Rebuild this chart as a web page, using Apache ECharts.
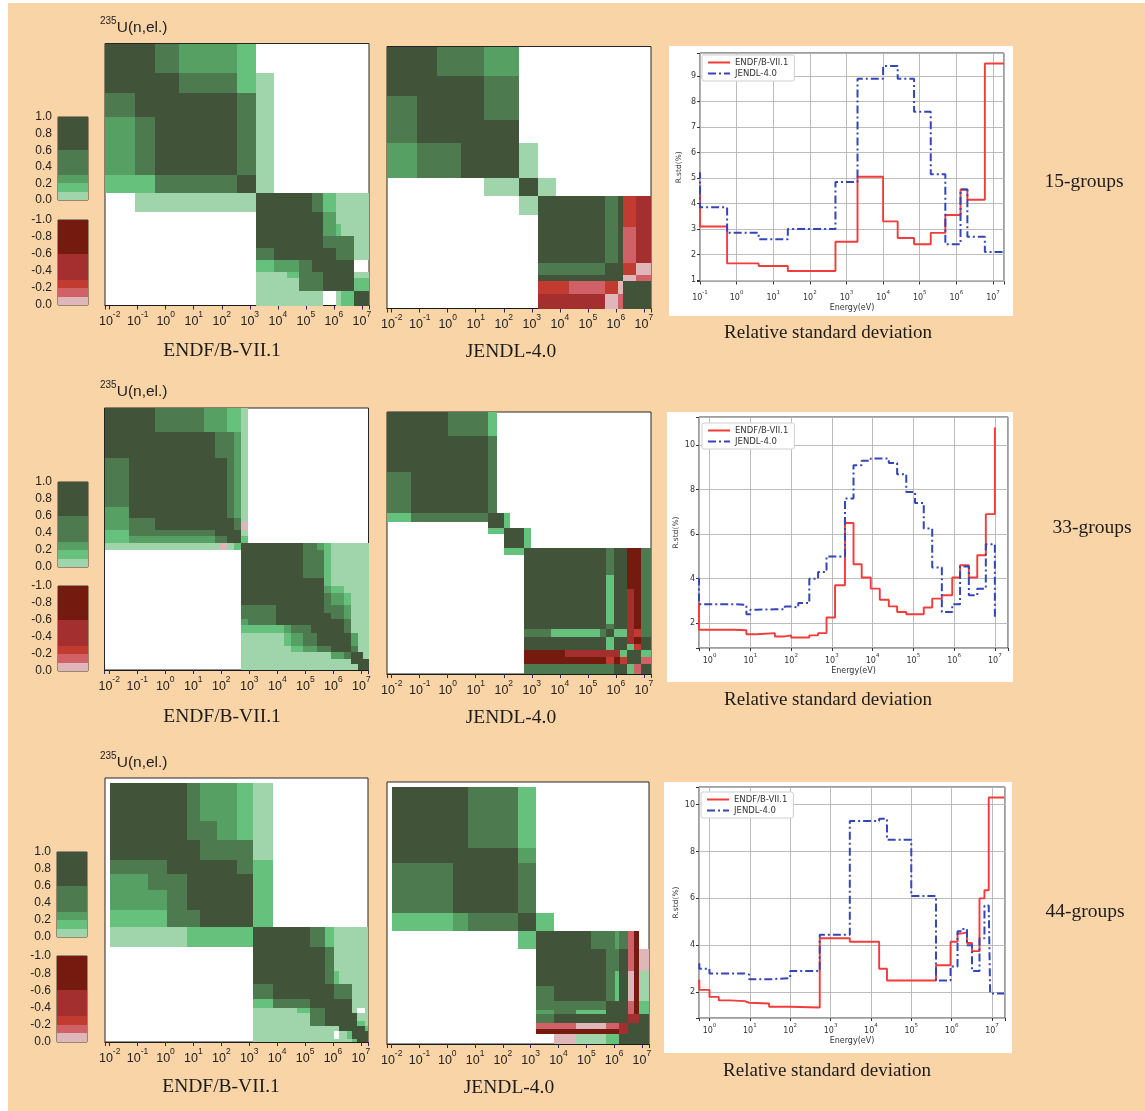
<!DOCTYPE html>
<html>
<head>
<meta charset="utf-8">
<title>235U(n,el.) correlation matrices and relative standard deviation</title>
<script src="https://cdn.jsdelivr.net/npm/echarts@6.0.0/dist/echarts.min.js"></script>
<style>
  html, body { margin: 0; padding: 0; background: #ffffff; overflow: hidden; }
  #chart { width: 1145px; height: 1111px; }
</style>
</head>
<body>
<div id="chart"></div>
<script>
// ---------------------------------------------------------------------------
// Data
// ---------------------------------------------------------------------------
const libraries = ['ENDF/B-VII.1', 'JENDL-4.0'];
const groupNames = ['15-groups', '33-groups', '44-groups'];
const reactionSup = '235';
const reactionName = 'U(n,el.)';

// Correlation level codes used in the matrix rows below.
const levelCodes  = ['D', 'M', 'G', 'B', 'L', '0', 'a', 'b', 'c', 'd', 'e'];
const levelValues = [0.8, 0.45, 0.25, 0.15, 0.05, 0, -0.05, -0.15, -0.25, -0.45, -0.8];

// Colour bands of the correlation scale.
const posBandEdges  = [0, 0.1, 0.2, 0.3, 0.6, 1.0];
const posBandColors = ['#a0d4aa', '#65c17b', '#57a063', '#4e7a50', '#41543a'];
const negBandEdges  = [0, -0.1, -0.2, -0.3, -0.6, -1.0];
const negBandColors = ['#dfb7ba', '#d06166', '#c13b31', '#a3302e', '#741a0e'];

// Matrix rows: "n*X" repeats code X n times, other tokens are read one code per character.
// 15-group structure (eV)
const heatEdges15 = [1e-5, 0.08, 0.4, 3, 20, 360, 1650, 7500, 2.1e4, 5.7e4, 1.6e5, 4e5, 1.15e6, 1.8e6, 5.2e6, 2e7];
const endf15Rows = [
  'DDMGGB 9*0',
  'DDDMMBL 8*0',
  'MDDDDML 8*0',
  'GMDDDML 8*0',
  'GMDDDML 8*0',
  'BBMMMDL 8*0',
  '0LLLLLDDDDMBLLL',
  '6*0 DDDDDGLLL',
  '6*0 DDDDDGBLL',
  '6*0 DDDDDMMML',
  '6*0 MDDDDDMML',
  '6*0 BGGMDDDD0',
  '6*0 LLBMMDDDL',
  '6*0 LLLMMDDDB',
  '6*0 LLLLL0LBD'
];
const jendl15Rows = [
  'DDMMG 10*0',
  'DDDDM 10*0',
  'MDDDM 10*0',
  'MDDDD 10*0',
  'GMMDDL 9*0',
  '4*0 LDL 8*0',
  '5*0 LDDDDDMDcd',
  '6*0 DDDDDMDcd',
  '6*0 DDDDDMDbd',
  '6*0 DDDDDMDbd',
  '6*0 DDDDDMDbd',
  '6*0 MMMMMDDca',
  '6*0 DDDDDDDab',
  '6*0 ccbbbcaDD',
  '6*0 dddddabDD'
];

// 33-group matrices (merged bins, eV)
const endf33Edges = [1e-5, 0.05, 0.42, 25, 59, 89, 160, 280, 490, 900, 2500, 8800, 1.7e4, 3e4, 8.3e4,
  1.6e5, 2.7e5, 4.5e5, 8.2e5, 2.4e6, 4.2e6, 7.3e6, 1.1e7, 2e7];
const endf33Rows = [
  'DDMGGGBBL 14*0',
  'DDDDMMMGL 14*0',
  'MDDDDDMGL 14*0',
  'GDDDDDMGL 14*0',
  'GMDDDDDML 14*0',
  'GMDDDDDMa 14*0',
  'BMMMDDDDL 14*0',
  'BGGGMMDDB 14*0',
  'LLLLLaLBD DDDDDMMGBLLLLL',
  '8*0 DDDDDDMMMBLLLLL',
  '8*0 DDDDDDMMMBLLLLL',
  '8*0 DDDDDDDDDBLLLLL',
  '8*0 DDDDDDDDDGBLLLL',
  '8*0 DDDDDDDDDMGBLLL',
  '8*0 MMMDDDDDDMMGLLL',
  '8*0 MMMDDDDDDDMGLLL',
  '8*0 GMMDDDDDDDDMLLL',
  '8*0 BBBBGMMDDDDMLLL',
  '8*0 LLLLBGMMDDDDGLL',
  '8*0 LLLLLBGGMMDDMLL',
  '8*0 LLLLLLLLLLGMDDL',
  '8*0 LLLLLLLLLLLLDDD',
  '8*0 LLLLLLLLLLLLLDD'
];
const jendl33Edges = [1e-5, 0.05, 1.0, 28, 59, 100, 170, 530, 920, 4800, 1.56e4, 8.1e4, 2.8e5, 4.5e5,
  8.4e5, 1.45e6, 2.5e6, 4.4e6, 7.6e6, 2e7];
const jendl33Rows = [
  'DDMB 15*0',
  'DDDM 15*0',
  'MDDM 15*0',
  'BMMDDB 13*0',
  '3*0 DDB 13*0',
  '3*0 BBDDB 11*0',
  '5*0 DDB 11*0',
  '5*0 BBDDDDDDMDDeeM',
  '7*0 DDDDDDMDDeeM',
  '7*0 DDDDDDBDDeeM',
  '7*0 DDDDDDBDDdeM',
  '7*0 DDDDDDBDDdeM',
  '7*0 DDDDDDMDDdeM',
  '7*0 MMBBBMDBBdcM',
  '7*0 DDDDDDBDDdeD',
  '7*0 DDDDDDBDDBcD',
  '7*0 eeedddddBDDB',
  '7*0 6*e cecDDb',
  '7*0 7*M DDBbD'
];

// 44-group matrices (merged bins, eV)
const endf44Edges = [0.01, 0.24, 1.1, 5.8, 17.5, 69, 360, 1400, 7100, 5.1e4, 1.55e5, 5.3e5, 1.06e6,
  1.6e6, 3.2e6, 4.8e6, 7.3e6, 1.45e7, 1.8e7];
const endf44Rows = [
  'DDDMGGBL 10*0',
  'DDDMMGBL 10*0',
  'DDDDMMML 10*0',
  'MMDDDDMB 10*0',
  'GMMDDDDB 10*0',
  'GGMDDDDB 10*0',
  'BBMMDDDB 10*0',
  'LLLBBBBD DDMBLLLLLL',
  '7*0 DDDDMLLLLLL',
  '7*0 DDDDMBLLLLL',
  '7*0 MDDDDMMMLLL',
  '7*0 BMMDDDDDLLL',
  '7*0 LLBMDDDDL0L',
  '7*0 LLLMDDDDDLL',
  '7*0 LLLMDDDDDBL',
  '7*0 LLLLLLDDDDB',
  '7*0 LLLLL0LBDDD',
  '7*0 LLLLLLLLBDD'
];
const jendl44Edges = [0.01, 1.66, 5.7, 350, 1600, 6700, 4.3e4, 1.5e5, 5.1e5, 1.1e6, 1.54e6, 3.05e6,
  5.3e6, 8e6, 1.8e7];
const jendl44Rows = [
  'DDMB 10*0',
  'DDDG 10*0',
  'MDDM 10*0',
  'BGMDB 9*0',
  '3*0 BDDDMMGMbe0',
  '4*0 DDDDMMDbea',
  '4*0 DDDDMBDaeL',
  '4*0 MDDDMBDaeL',
  '4*0 MMMMDDDbeB',
  '4*0 GMBBDDDbeB',
  '4*0 MDDDDDDddD',
  '4*0 bbaabbdDDD',
  '4*0 eeeeeedDDD',
  '4*0 0aLLBBDDDD'
];

// Relative standard deviation (%) per energy group, group boundaries in eV
const stdEdges15 = [1e-5, 0.1, 0.55, 4, 25, 500, 2000, 1e4, 2.5e4, 7e4, 2e5, 5e5, 1.3e6, 2e6, 6e6, 2e7];
const endfStd15  = [4.7, 3.1, 1.65, 1.55, 1.35, 2.5, 5.05, 3.3, 2.65, 2.4, 2.85, 3.55, 4.55, 4.15, 9.5];
const jendlStd15 = [5.2, 3.85, 2.85, 2.6, 3.0, 4.85, 8.9, 9.4, 8.9, 7.6, 5.15, 2.4, 4.55, 2.7, 2.1];

const stdEdges33 = [1e-5, 0.55, 4, 8, 10, 14, 40, 70, 100, 150, 280, 460, 740, 1200, 2100, 3400, 5400,
  9000, 1.5e4, 2.5e4, 4e4, 6.7e4, 1.1e5, 1.8e5, 2.9e5, 5e5, 9e5, 1.4e6, 2.3e6, 3.7e6, 6e6, 1e7, 2e7];
const endfStd33  = [2.9, 1.7, 1.68, 1.5, 1.5, 1.55, 1.4, 1.45, 1.35, 1.35, 1.45, 1.55, 2.25, 3.7, 6.5,
  4.65, 4.05, 3.55, 3.05, 2.75, 2.5, 2.4, 2.4, 2.7, 3.1, 3.25, 4.05, 4.6, 4.05, 5.05, 6.9, 10.8];
const jendlStd33 = [4.0, 2.85, 2.82, 2.4, 2.6, 2.62, 2.62, 2.75, 2.7, 2.9, 4.0, 4.3, 5.0, 5.0, 7.6,
  9.1, 9.3, 9.4, 9.4, 9.2, 8.7, 7.9, 7.4, 6.25, 4.5, 2.5, 2.85, 4.55, 3.25, 3.55, 5.55, 2.2];

const stdEdges44 = [1e-5, 0.56, 1.0, 1.7, 3.2, 7.5, 9.6, 30, 100, 540, 3000, 1.6e4, 2.5e4, 1e5, 4.1e5,
  9.4e5, 1.4e6, 1.7e6, 2.4e6, 3.2e6, 4.9e6, 6.5e6, 8.3e6, 9e6, 2e7];
const endfStd44  = [2.5, 2.1, 1.8, 1.65, 1.62, 1.55, 1.52, 1.38, 1.35, 4.3, 4.15, 3.0, 2.5, 2.5, 3.15,
  4.15, 4.5, 4.55, 4.1, 3.75, 6.0, 6.35, 10.3, 10.3];
const jendlStd44 = [3.25, 3.0, 2.8, 2.8, 2.8, 2.75, 2.55, 2.6, 2.9, 4.45, 9.3, 9.4, 8.5, 6.1, 2.5,
  3.1, 4.6, 4.7, 4.0, 2.9, 4.3, 5.7, 5.7, 1.95];

// ---------------------------------------------------------------------------
// Layout
// ---------------------------------------------------------------------------
const HEAT_RANGE = [0.0068, 1.8e7];
const rowSetup = [
  {
    heat: [{ edges: heatEdges15, rows: endf15Rows }, { edges: heatEdges15, rows: jendl15Rows }],
    std: { edges: stdEdges15, endf: endfStd15, jendl: jendlStd15, closed: true },
    heatBox: [{ left: 105, top: 43.5, width: 264, height: 262 }, { left: 387, top: 46.5, width: 264, height: 262 }],
    bar: { left: 58, width: 30, green: [117, 200], red: [220, 305] },
    lineBox: { left: 700, top: 53, width: 304, height: 228.5 },
    xRange: [0.1, 2e7], yRange: [0.94, 9.91], yStep: 1,
    panel: { x: 669, y: 46, w: 344, h: 270 },
    legendPos: { left: 702, top: 55 },
    title: { x: 100, y: 26 },
    captions: [{ x: 222, y: 351 }, { x: 511, y: 352 }],
    stdCaption: { x: 828, y: 333 },
    groupLabel: { x: 1084, y: 182 },
    yNameGap: 17, xNameGap: 22, xLabelMargin: 8
  },
  {
    heat: [{ edges: endf33Edges, rows: endf33Rows }, { edges: jendl33Edges, rows: jendl33Rows }],
    std: { edges: stdEdges33, endf: endfStd33, jendl: jendlStd33, closed: false },
    heatBox: [{ left: 104.5, top: 408, width: 264, height: 262 }, { left: 387, top: 412, width: 264, height: 262 }],
    bar: { left: 58, width: 30, green: [482, 567], red: [586, 671] },
    lineBox: { left: 699, top: 417, width: 309, height: 231 },
    xRange: [0.55, 2.1e7], yRange: [0.88, 11.27], yStep: 2,
    panel: { x: 667, y: 412, w: 346, h: 270 },
    legendPos: { left: 702, top: 423 },
    title: { x: 100, y: 390 },
    captions: [{ x: 222, y: 717 }, { x: 511, y: 718 }],
    stdCaption: { x: 828, y: 700 },
    groupLabel: { x: 1092, y: 528 },
    yNameGap: 19, xNameGap: 19, xLabelMargin: 5
  },
  {
    heat: [{ edges: endf44Edges, rows: endf44Rows }, { edges: jendl44Edges, rows: jendl44Rows }],
    std: { edges: stdEdges44, endf: endfStd44, jendl: jendlStd44, closed: true },
    heatBox: [{ left: 105, top: 778, width: 263, height: 264 }, { left: 387, top: 782, width: 262, height: 262 }],
    bar: { left: 57, width: 30, green: [852, 937], red: [956, 1042] },
    lineBox: { left: 699, top: 787, width: 306, height: 231 },
    xRange: [0.55, 2.1e7], yRange: [0.9, 10.75], yStep: 2,
    panel: { x: 664, y: 782, w: 348, h: 271 },
    legendPos: { left: 701, top: 792 },
    title: { x: 100, y: 761 },
    captions: [{ x: 221, y: 1087 }, { x: 509, y: 1088 }],
    stdCaption: { x: 827, y: 1071 },
    groupLabel: { x: 1085, y: 912 },
    yNameGap: 19, xNameGap: 19, xLabelMargin: 5
  }
];

// ---------------------------------------------------------------------------
// Helpers
// ---------------------------------------------------------------------------
function expandRow(s) {
  const out = [];
  s.trim().split(/\s+/).forEach(tok => {
    const m = tok.match(/^(\d+)\*(.)$/);
    if (m) { for (let k = 0; k < +m[1]; k++) out.push(m[2]); }
    else { for (const ch of tok) out.push(ch); }
  });
  return out;
}
function levelValue(code) { return levelValues[levelCodes.indexOf(code)]; }
function bandColor(v) {
  if (v > 0) {
    for (let i = 1; i < posBandEdges.length; i++) if (v <= posBandEdges[i]) return posBandColors[i - 1];
    return posBandColors[posBandColors.length - 1];
  }
  for (let i = 1; i < negBandEdges.length; i++) if (v >= negBandEdges[i]) return negBandColors[i - 1];
  return negBandColors[negBandColors.length - 1];
}
function matrixCells(edges, rows) {
  const cells = [];
  rows.forEach((row, i) => {
    expandRow(row).forEach((code, j) => {
      const v = levelValue(code);
      if (v !== 0 && j + 1 < edges.length && i + 1 < edges.length) {
        cells.push([edges[j], edges[j + 1], edges[i], edges[i + 1], v]);
      }
    });
  });
  return cells;
}
function bandCells(bounds) {
  const cells = [];
  for (let i = 0; i + 1 < bounds.length; i++) {
    cells.push([0, 1, bounds[i], bounds[i + 1], (bounds[i] + bounds[i + 1]) / 2]);
  }
  return cells;
}
// Cells are snapped to whole pixels so that neighbouring blocks meet without seams.
function renderBlock(params, api) {
  const a = api.coord([api.value(0), api.value(2)]);
  const b = api.coord([api.value(1), api.value(3)]);
  const cs = params.coordSys;
  const cx0 = Math.round(cs.x), cy0 = Math.round(cs.y);
  const cx1 = Math.round(cs.x + cs.width), cy1 = Math.round(cs.y + cs.height);
  const x0 = Math.max(cx0, Math.round(Math.min(a[0], b[0])));
  const x1 = Math.min(cx1, Math.round(Math.max(a[0], b[0])));
  const y0 = Math.max(cy0, Math.round(Math.min(a[1], b[1])));
  const y1 = Math.min(cy1, Math.round(Math.max(a[1], b[1])));
  if (x1 <= x0 || y1 <= y0) return null;
  return { type: 'rect', shape: { x: x0, y: y0, width: x1 - x0, height: y1 - y0 },
    style: { fill: bandColor(api.value(4)) } };
}
function stepPoints(edges, values, closed) {
  const pts = values.map((v, i) => [edges[i], v]);
  if (closed) pts.push([edges[values.length], values[values.length - 1]]);
  return pts;
}
function powerLabel(v) {
  const e = Math.log10(v);
  const r = Math.round(e);
  if (Math.abs(e - r) > 1e-6) return '';
  return '{b|10}{s|' + r + '}';
}
function barLabel(v) {
  if (Math.abs(v) < 1e-9) return '0.0';
  return v.toFixed(1);
}

// ---------------------------------------------------------------------------
// Option assembly
// ---------------------------------------------------------------------------
const grids = [], xAxes = [], yAxes = [], series = [], legends = [], elements = [];
function addGrid(box, extra, xa, ya) {
  const idx = grids.length;
  grids.push(Object.assign({ left: box.left, top: box.top, width: box.width, height: box.height,
    containLabel: false, outerBoundsMode: 'none' }, extra));
  xAxes.push(Object.assign({ gridIndex: idx }, xa));
  yAxes.push(Object.assign({ gridIndex: idx }, ya));
  return idx;
}

const heatLabelRich = {
  b: { fontSize: 12.5, fontFamily: 'Liberation Sans', color: '#222', lineHeight: 18, verticalAlign: 'bottom' },
  s: { fontSize: 8.5, fontFamily: 'Liberation Sans', color: '#222', lineHeight: 18, verticalAlign: 'top' }
};
const lineLabelRich = {
  b: { fontSize: 8, fontFamily: 'DejaVu Sans', color: '#333', lineHeight: 12, verticalAlign: 'bottom' },
  s: { fontSize: 5.5, fontFamily: 'DejaVu Sans', color: '#333', lineHeight: 12, verticalAlign: 'top' }
};

// page background
elements.push({ type: 'rect', z: -100, shape: { x: 8, y: 3, width: 1137, height: 1108 }, style: { fill: '#f9d4a7' } });

rowSetup.forEach((row, r) => {
  // colour scale bars
  const gBox = { left: row.bar.left, top: row.bar.green[0], width: row.bar.width, height: row.bar.green[1] - row.bar.green[0] };
  const rBox = { left: row.bar.left, top: row.bar.red[0], width: row.bar.width, height: row.bar.red[1] - row.bar.red[0] };
  const barY = {
    type: 'value', interval: 0.2,
    axisLabel: { formatter: barLabel, fontSize: 12, color: '#222', fontFamily: 'Liberation Sans', margin: 6 },
    axisLine: { show: false }, axisTick: { show: false }, splitLine: { show: false }
  };
  const gIdx = addGrid(gBox, { show: true, borderColor: '#3a3a3a', borderWidth: 1 },
    { type: 'value', min: 0, max: 1, show: false },
    Object.assign({}, barY, { min: 0, max: 1 }));
  series.push({ type: 'custom', name: 'scale+' + r, xAxisIndex: gIdx, yAxisIndex: gIdx,
    renderItem: renderBlock, encode: { x: [0, 1], y: [2, 3] }, data: bandCells(posBandEdges), silent: true });
  const rIdx = addGrid(rBox, { show: true, borderColor: '#3a3a3a', borderWidth: 1 },
    { type: 'value', min: 0, max: 1, show: false },
    Object.assign({}, barY, { min: -1, max: 0, inverse: true }));
  series.push({ type: 'custom', name: 'scale-' + r, xAxisIndex: rIdx, yAxisIndex: rIdx,
    renderItem: renderBlock, encode: { x: [0, 1], y: [2, 3] }, data: bandCells(negBandEdges), silent: true });

  // correlation matrices
  row.heat.forEach((h, k) => {
    const idx = addGrid(row.heatBox[k], { show: true, borderColor: '#262626', borderWidth: 1, backgroundColor: '#ffffff' },
      {
        type: 'log', logBase: 10, min: HEAT_RANGE[0], max: HEAT_RANGE[1], splitNumber: 10,
        axisLine: { show: true, lineStyle: { color: '#1a1a1a', width: 1.2 } },
        axisTick: { show: true, length: 4, lineStyle: { color: '#1f2b5a', width: 1 } },
        axisLabel: { show: true, margin: 5, formatter: powerLabel, rich: heatLabelRich },
        splitLine: { show: false }
      },
      { type: 'log', logBase: 10, min: HEAT_RANGE[0], max: HEAT_RANGE[1], inverse: true, show: false });
    series.push({ type: 'custom', name: libraries[k] + ' correlation ' + r, xAxisIndex: idx, yAxisIndex: idx,
      renderItem: renderBlock, encode: { x: [0, 1], y: [2, 3] }, data: matrixCells(h.edges, h.rows), silent: true });
    elements.push({ type: 'text', x: row.captions[k].x, y: row.captions[k].y, z: 50,
      style: { text: libraries[k], fontSize: 19.5, fontFamily: 'Liberation Serif', fill: '#1b1b1b',
        textAlign: 'center', textVerticalAlign: 'middle' } });
  });

  // relative standard deviation
  elements.push({ type: 'rect', z: -90, shape: { x: row.panel.x, y: row.panel.y, width: row.panel.w, height: row.panel.h },
    style: { fill: '#ffffff' } });
  const lIdx = addGrid(row.lineBox, { show: true, borderColor: '#3c3c3c', borderWidth: 1, backgroundColor: '#ffffff' },
    {
      type: 'log', logBase: 10, min: row.xRange[0], max: row.xRange[1], splitNumber: 10,
      name: 'Energy(eV)', nameLocation: 'middle', nameGap: row.xNameGap,
      nameTextStyle: { fontSize: 8, color: '#333', fontFamily: 'DejaVu Sans' },
      axisLine: { show: false },
      axisTick: { show: true, length: 3, lineStyle: { color: '#333' } },
      axisLabel: { margin: row.xLabelMargin, formatter: powerLabel, rich: lineLabelRich },
      splitLine: { show: true, lineStyle: { color: '#b4b4b4', width: 0.9 } }
    },
    {
      type: 'value', min: row.yRange[0], max: row.yRange[1], minInterval: row.yStep, maxInterval: row.yStep,
      name: 'R.std(%)', nameLocation: 'middle', nameGap: row.yNameGap, nameRotate: 90,
      nameTextStyle: { fontSize: 7.5, color: '#333', fontFamily: 'DejaVu Sans' },
      axisLine: { show: false },
      axisTick: { show: true, length: 3, lineStyle: { color: '#333' } },
      axisLabel: { margin: 4, fontSize: 8, color: '#333', fontFamily: 'DejaVu Sans',
        formatter: v => (Math.abs(v - Math.round(v)) < 1e-6 ? String(Math.round(v)) : '') },
      splitLine: { show: true, lineStyle: { color: '#b4b4b4', width: 0.9 } }
    });
  series.push({ type: 'line', name: libraries[0], xAxisIndex: lIdx, yAxisIndex: lIdx, step: 'end',
    symbol: 'none', showSymbol: false, clip: true, data: stepPoints(row.std.edges, row.std.endf, row.std.closed),
    lineStyle: { color: '#f23b3b', width: 1.9 }, itemStyle: { color: '#f23b3b' }, z: 3 });
  series.push({ type: 'line', name: libraries[1], xAxisIndex: lIdx, yAxisIndex: lIdx, step: 'end',
    symbol: 'none', showSymbol: false, clip: true, data: stepPoints(row.std.edges, row.std.jendl, row.std.closed),
    lineStyle: { color: '#3446b5', width: 2, type: [8, 3, 2, 3] }, itemStyle: { color: '#3446b5' }, z: 4 });
  legends.push({
    left: row.legendPos.left, top: row.legendPos.top, orient: 'vertical', data: libraries.slice(),
    itemWidth: 22, itemHeight: 9, itemGap: 2, padding: [3, 6, 3, 5],
    backgroundColor: '#ffffff', borderColor: '#cfcfcf', borderWidth: 1, borderRadius: 2,
    itemStyle: { opacity: 0 },
    textStyle: { fontSize: 8.5, color: '#333', fontFamily: 'DejaVu Sans' },
    selectedMode: false
  });

  // texts
  elements.push({ type: 'text', x: row.title.x, y: row.title.y, z: 50,
    style: { text: '{s|' + reactionSup + '}{u|' + reactionName + '}', textAlign: 'left', textVerticalAlign: 'middle',
      rich: {
        s: { fontSize: 10, fontFamily: 'Liberation Sans', fill: '#222', verticalAlign: 'top', lineHeight: 20 },
        u: { fontSize: 15.5, fontFamily: 'Liberation Sans', fill: '#222', verticalAlign: 'bottom', lineHeight: 20 }
      } } });
  elements.push({ type: 'text', x: row.stdCaption.x, y: row.stdCaption.y, z: 50,
    style: { text: 'Relative standard deviation', fontSize: 19, fontFamily: 'Liberation Serif', fill: '#1b1b1b',
      textAlign: 'center', textVerticalAlign: 'middle' } });
  elements.push({ type: 'text', x: row.groupLabel.x, y: row.groupLabel.y, z: 50,
    style: { text: groupNames[r], fontSize: 19.5, fontFamily: 'Liberation Serif', fill: '#1b1b1b',
      textAlign: 'center', textVerticalAlign: 'middle' } });
});

const chart = echarts.init(document.getElementById('chart'), null, { renderer: 'canvas', width: 1145, height: 1111 });
chart.setOption({
  animation: false,
  backgroundColor: '#ffffff',
  grid: grids,
  xAxis: xAxes,
  yAxis: yAxes,
  legend: legends,
  series: series,
  graphic: { elements: elements }
});
</script>
</body>
</html>
